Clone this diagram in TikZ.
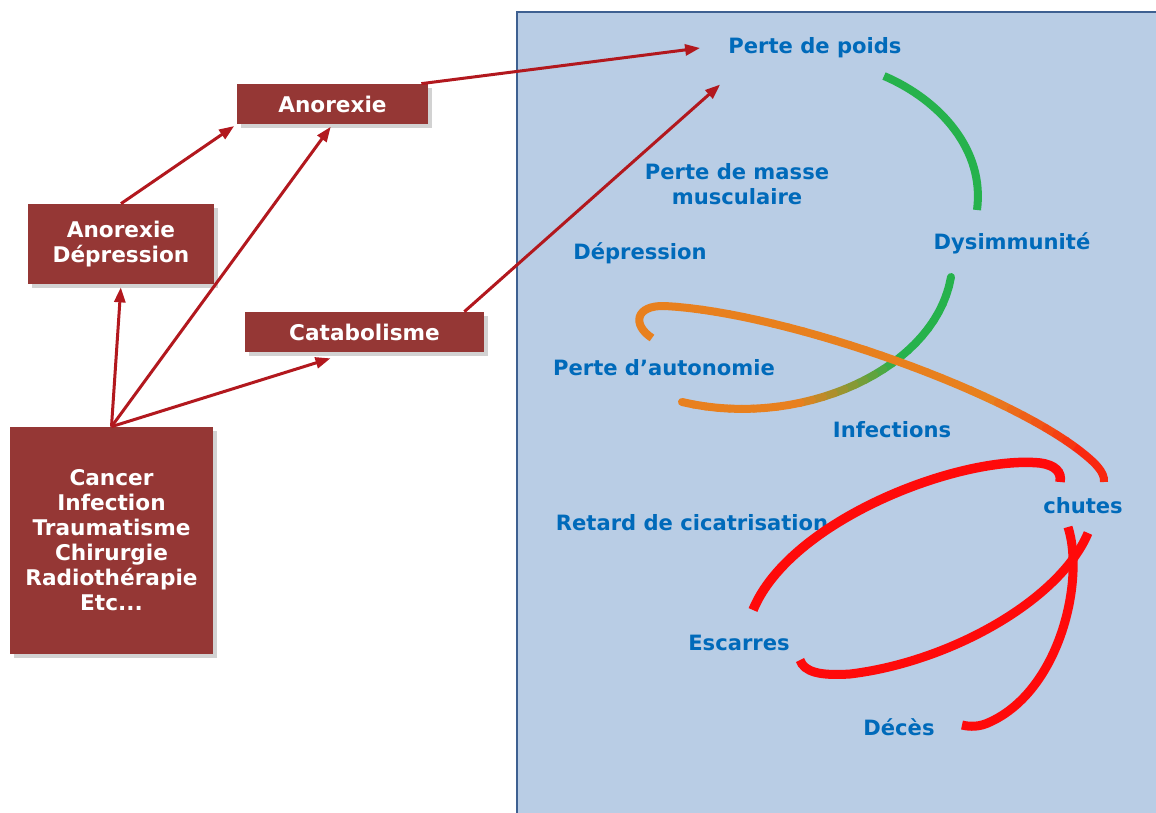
\documentclass[tikz,border=0pt]{standalone}
\usepackage{fontspec}
\setsansfont{DejaVu Sans}
\usetikzlibrary{arrows.meta, positioning, shadows}

\definecolor{boxred}{RGB}{149,55,53}
\definecolor{arrowred}{RGB}{178,24,30}
\definecolor{panelblue}{RGB}{185,205,229}
\definecolor{panelline}{RGB}{62,96,145}
\definecolor{labelblue}{RGB}{0,106,186}
\definecolor{cyclegreen}{RGB}{38,178,76}
\definecolor{cycleorange}{RGB}{232,128,30}
\definecolor{cyclered}{RGB}{255,10,10}

\tikzset{
  causebox/.style={fill=boxred, text=white, font=\sffamily\bfseries\fontsize{12.3}{14.2}\selectfont,
    align=center, inner sep=0pt,
    drop shadow={shadow xshift=0.8mm, shadow yshift=-0.8mm, opacity=0.35}},
  effect/.style={text=labelblue, font=\sffamily\bfseries\fontsize{12}{14.2}\selectfont,
    align=center, inner sep=0pt},
  cause/.style={draw=arrowred, line width=0.6mm, -{Triangle[length=3mm, width=2.2mm]}},
  loopline/.style={line width=1.6mm},
}

\begin{document}
\begin{tikzpicture}[x=0.2mm, y=-0.2mm]
\useasboundingbox (0,0) rectangle (1156,812);
\fill[white] (0,0) rectangle (1156,812);

% panel
\draw[fill=panelblue, draw=panelline, line width=0.4mm] (517,12) rectangle (1170,830);

% causes
\node[causebox, minimum width=38.2mm, minimum height=8mm] (anorexie) at (332.5,104) {Anorexie};
\node[causebox, minimum width=37.2mm, minimum height=16mm] (anodep) at (121,244) {Anorexie\\Dépression};
\node[causebox, minimum width=47.8mm, minimum height=8mm] (catab) at (364.5,332) {Catabolisme};
\node[causebox, minimum width=40.6mm, minimum height=45.4mm] (origin) at (111.5,540.5)
  {Cancer\\Infection\\Traumatisme\\Chirurgie\\Radiothérapie\\Etc...};

% effects
\node[effect] (poids) at (815,48) {Perte de poids};
\node[effect] (masse) at (737,184) {Perte de masse\\musculaire};
\node[effect] (depression) at (640,253) {Dépression};
\node[effect] (dysimm) at (1012,243) {Dysimmunité};
\node[effect] (autonomie) at (664,368) {Perte d’autonomie};
\node[effect] (infections) at (892,430) {Infections};
\node[effect] (chutes) at (1083,506) {chutes};
\node[effect] (retard) at (692,523) {Retard de cicatrisation};
\node[effect] (escarres) at (739,643) {Escarres};
\node[effect] (deces) at (899,727) {Décès};

% arrows
\draw[cause, shorten >=0.6mm] (origin.north) -- (anodep.south);
\draw[cause, shorten >=0.6mm] (origin.north) -- (anorexie.south);
\draw[cause] (origin.north) -- ([xshift=-6.8mm, yshift=-1.2mm]catab.south);
\draw[cause, shorten >=0.6mm] (anodep.north) -- (anorexie.south west);
\draw[cause] ([xshift=-1.4mm]anorexie.north east) -- ([xshift=-5.6mm]poids.west);
\draw[cause] ([xshift=-4mm]catab.north east) -- ([xshift=-1.6mm, yshift=-5.2mm]poids.south west);

% green arcs
\draw[loopline, cyclegreen] (884,76) .. controls (940,100) and (985,150) .. (977,210);
\path (951,277) .. controls (935,370) and (800,430) .. (682,402)
  foreach \i in {0,...,30} {coordinate[pos=\i/30] (g\i)};
\foreach \i [evaluate=\i as \j using int(\i+1),
             evaluate=\i as \m using {int(min(100,max(0,200-10*\i)))}] in {0,...,29}
  \draw[loopline, line cap=round, color=cyclegreen!\m!cycleorange] (g\i) -- (g\j);

% orange curve
\draw[loopline, cycleorange] (652,338) .. controls (632,325) and (635,305) .. (665,306);
\path (665,306) .. controls (780,312) and (990,385) .. (1075,447)
  foreach \i in {0,...,30} {coordinate[pos=\i/30] (o\i)};
\foreach \i [evaluate=\i as \j using int(\i+1),
             evaluate=\i as \m using {int(min(100,max(30,100-9*(\i-22))))}] in {0,...,29}
  \draw[loopline, line cap=round, color=cycleorange!\m!cyclered] (o\i) -- (o\j);
\draw[loopline, color=cycleorange!25!cyclered] (1075,447) .. controls (1095,462) and (1105,472) .. (1104,482);

% red curves
\draw[loopline, cyclered, line width=1.9mm] (753,610) .. controls (790,520) and (960,455) .. (1040,463)
  .. controls (1055,465) and (1062,472) .. (1060,482);
\draw[loopline, cyclered, line width=1.8mm] (800,660) .. controls (804,672) and (820,676) .. (850,674)
  .. controls (950,662) and (1060,600) .. (1088,533);
\draw[loopline, cyclered, line width=1.8mm] (1068,527) .. controls (1085,580) and (1060,690) .. (990,722)
  .. controls (980,727) and (970,727) .. (962,725);
\end{tikzpicture}
\end{document}
